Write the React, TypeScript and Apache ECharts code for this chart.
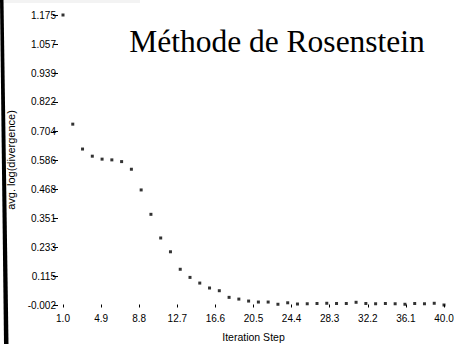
import React, { useEffect, useRef } from "react";
import * as echarts from "echarts";

// Iteration steps and average log divergence (Rosenstein method)
const steps: number[] = [
  1, 2, 3, 4, 5, 6, 7, 8, 9, 10, 11, 12, 13, 14, 15, 16, 17, 18, 19, 20,
  21, 22, 23, 24, 25, 26, 27, 28, 29, 30, 31, 32, 33, 34, 35, 36, 37, 38, 39, 40,
];
const divergence: number[] = [
  1.175, 0.732, 0.631, 0.602, 0.59, 0.587, 0.58, 0.549, 0.465, 0.366,
  0.27, 0.214, 0.143, 0.11, 0.087, 0.067, 0.056, 0.029, 0.022, 0.014,
  0.01, 0.01, 0.001, 0.007, 0.002, 0.003, 0.004, 0.005, 0.004, 0.004,
  0.009, 0.004, 0.003, 0.004, 0.003, 0.001, 0.004, 0.003, 0.005, -0.002,
];

// Tick positions shown on each axis
const xTicks: number[] = [1.0, 4.9, 8.8, 12.7, 16.6, 20.5, 24.4, 28.3, 32.2, 36.1, 40.0];
const yTicks: number[] = [
  -0.002, 0.115, 0.233, 0.351, 0.468, 0.586, 0.704, 0.822, 0.939, 1.057, 1.175,
];

const TITLE = "Méthode de Rosenstein";
const X_NAME = "Iteration Step";
const Y_NAME = "avg. log(divergence)";

export default function App() {
  const ref = useRef<HTMLDivElement>(null);

  useEffect(() => {
    if (!ref.current) return;
    const chart = echarts.init(ref.current, null, { renderer: "svg" });
    const labelFont = "'Liberation Sans', Arial, sans-serif";

    chart.setOption({
      animation: false,
      backgroundColor: "#ffffff",
      title: {
        text: TITLE,
        left: 272,
        top: 20,
        textAlign: "center",
        textStyle: {
          fontFamily: "'Liberation Serif', 'Times New Roman', serif",
          fontSize: 31.5,
          fontWeight: "normal",
          color: "#000000",
        },
      },
      grid: {
        left: 63,
        right: 10,
        top: 15,
        bottom: 39,
        outerBoundsMode: "none",
        containLabel: false,
      },
      xAxis: {
        type: "value",
        min: xTicks[0],
        max: xTicks[xTicks.length - 1],
        offset: 2,
        name: X_NAME,
        nameLocation: "middle",
        nameGap: 24,
        nameTextStyle: { fontFamily: labelFont, fontSize: 10.5, color: "#000000" },
        axisLine: { show: false },
        splitLine: { show: false },
        axisTick: {
          show: true,
          length: 3,
          customValues: xTicks,
          lineStyle: { color: "#000000", width: 1 },
        },
        axisLabel: {
          customValues: xTicks,
          margin: 6,
          fontFamily: labelFont,
          fontSize: 10,
          color: "#000000",
          formatter: (v: number) => v.toFixed(1),
        },
      },
      yAxis: {
        type: "value",
        min: yTicks[0],
        max: yTicks[yTicks.length - 1],
        offset: 5,
        name: Y_NAME,
        nameLocation: "middle",
        nameGap: 42,
        nameTextStyle: { fontFamily: labelFont, fontSize: 11, color: "#000000" },
        axisLine: { show: false },
        splitLine: { show: false },
        axisTick: {
          show: true,
          length: 5,
          customValues: yTicks,
          lineStyle: { color: "#000000", width: 1 },
        },
        axisLabel: {
          customValues: yTicks,
          margin: 2,
          fontFamily: labelFont,
          fontSize: 10,
          color: "#000000",
          formatter: (v: number) => v.toFixed(3),
        },
      },
      graphic: [
        {
          type: "rect",
          shape: { x: 0, y: 0, width: 140, height: 3 },
          style: { fill: "#f3f3f3" },
          silent: true,
        },
        {
          type: "polygon",
          shape: { points: [[0, 0], [3.5, 0], [8.5, 344], [4, 344]] },
          style: { fill: "#000000" },
          silent: true,
        },
      ],
      series: [
        {
          type: "scatter",
          symbol: "rect",
          symbolSize: 3,
          itemStyle: { color: "#000000" },
          data: steps.map((s, i) => [s, divergence[i]]),
        },
      ],
    });

    return () => chart.dispose();
  }, []);

  return (
    <div
      ref={ref}
      style={{ position: "fixed", left: 0, top: 0, width: 454, height: 344 }}
    />
  );
}
